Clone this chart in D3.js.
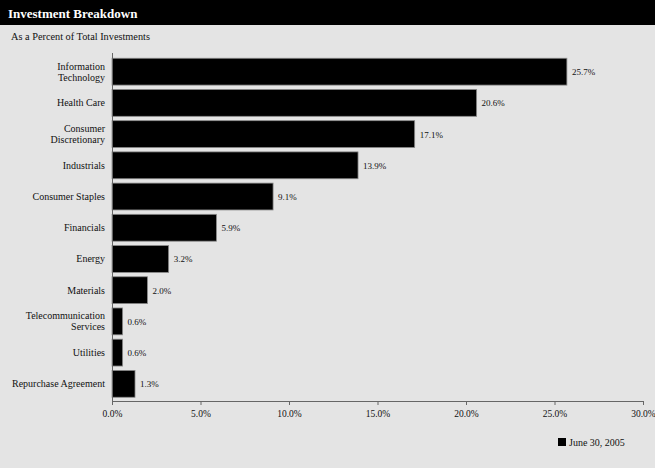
<!DOCTYPE html>
<html><head><meta charset="utf-8">
<script src="https://cdn.jsdelivr.net/npm/d3@7"></script>
<style>body{margin:0;background:#e4e4e4;}svg{display:block;}</style>
</head><body>
<script>
const categories = [["Information","Technology"],["Health Care"],["Consumer","Discretionary"],["Industrials"],["Consumer Staples"],["Financials"],["Energy"],["Materials"],["Telecommunication","Services"],["Utilities"],["Repurchase Agreement"]];
const values = [25.7, 20.6, 17.1, 13.9, 9.1, 5.9, 3.2, 2.0, 0.6, 0.6, 1.3];
const tickValues = [0, 5, 10, 15, 20, 25, 30];
const seriesName = "June 30, 2005";
const title = "Investment Breakdown";
const subtitle = "As a Percent of Total Investments";

const W = 655, H = 468;
const font = "'Liberation Serif','Times New Roman',serif";
const svg = d3.select("body").append("svg").attr("width", W).attr("height", H).style("font-family", font);
svg.append("rect").attr("width", W).attr("height", H).attr("fill", "#e4e4e4");
svg.append("rect").attr("width", W).attr("height", 25).attr("fill", "#000");
svg.append("text").attr("x", 8).attr("y", 17.5).attr("fill", "#fff").attr("font-size", 13).attr("font-weight", "bold").text(title);
svg.append("text").attr("x", 11).attr("y", 40).attr("fill", "#111").attr("font-size", 10.3).text(subtitle);

const x = d3.scaleLinear().domain([0, 30]).range([112, 643]);
const idx = d3.range(categories.length);
const y = d3.scaleBand().domain(idx).range([54.5, 401]).paddingInner(0.14).paddingOuter(0.12);

svg.selectAll("rect.bar").data(idx).join("rect").attr("class", "bar")
  .attr("x", x(0)).attr("y", i => y(i)).attr("width", i => x(values[i]) - x(0)).attr("height", y.bandwidth())
  .attr("fill", "#000").attr("stroke", "#8a8a8a").attr("stroke-width", 0.8);

svg.selectAll("text.val").data(idx).join("text").attr("class", "val")
  .attr("x", i => x(values[i]) + 5).attr("y", i => y(i) + y.bandwidth() / 2 + 3.5)
  .attr("font-size", 9).attr("fill", "#111").text(i => values[i].toFixed(1) + "%");

const cl = svg.selectAll("text.cat").data(idx).join("text").attr("class", "cat")
  .attr("text-anchor", "end").attr("font-size", 10).attr("fill", "#111");
cl.each(function(i) {
  const lines = categories[i];
  const cy = y(i) + y.bandwidth() / 2;
  const t = d3.select(this);
  lines.forEach((l, k) => {
    t.append("tspan").attr("x", 105).attr("y", cy + 3.5 + (k - (lines.length - 1) / 2) * 11).text(l);
  });
});

const xAxis = d3.axisBottom(x).tickValues(tickValues).tickSize(4).tickFormat(d => d.toFixed(1) + "%");
const gx = svg.append("g").attr("transform", "translate(0,401)").call(xAxis);
gx.select(".domain").attr("stroke", "#666");
gx.selectAll(".tick line").attr("stroke", "#666");
gx.selectAll(".tick text").attr("font-family", font).attr("font-size", 9.5).attr("fill", "#111").attr("dy", "0.9em");

svg.append("line").attr("x1", 112.5).attr("x2", 112.5).attr("y1", 53).attr("y2", 401).attr("stroke", "#666");

svg.append("rect").attr("x", 558).attr("y", 438).attr("width", 8).attr("height", 8).attr("fill", "#000");
svg.append("text").attr("x", 569).attr("y", 446).attr("font-size", 10).attr("fill", "#111").text(seriesName);
</script>
</body></html>
